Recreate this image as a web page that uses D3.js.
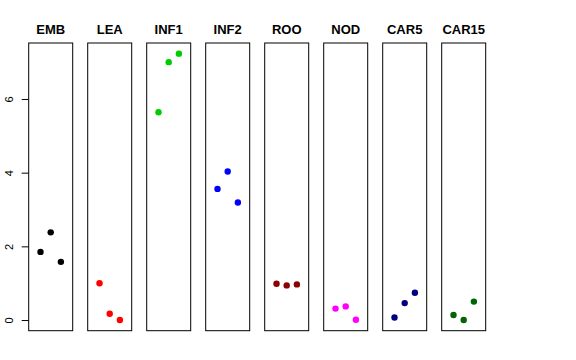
<!DOCTYPE html>
<html><head><meta charset="utf-8">
<script src="https://cdn.jsdelivr.net/npm/d3@7"></script>
<style>body{margin:0;background:#fff}svg{display:block}</style>
</head><body>
<script>
const categories = ["EMB","LEA","INF1","INF2","ROO","NOD","CAR5","CAR15"];
const colors = ["#000000","#ff0000","#00cd00","#0000ff","#8b0000","#ff00ff","#000080","#006400"];
const values = [
  [1.85, 2.38, 1.58],
  [1.00, 0.17, 0.00],
  [5.64, 7.00, 7.23],
  [3.56, 4.03, 3.19],
  [0.985, 0.94, 0.968],
  [0.31, 0.37, 0.01],
  [0.07, 0.46, 0.74],
  [0.135, 0.00, 0.50]
];
const yTicks = [0, 2, 4, 6];

const W = 576, H = 360;
const svg = d3.select("body").append("svg").attr("width", W).attr("height", H);

const allVals = values.flat();
const ymin = d3.min(allVals), ymax = d3.max(allVals);
const pad = (ymax - ymin) * 0.04;
const y = d3.scaleLinear().domain([ymin - pad, ymax + pad]).range([330.7, 43]);

const panel = d3.scaleBand().domain(categories).range([28.7, 28.7 + 59 * 8 - 15]).paddingInner(15/59).paddingOuter(0);
const x = d3.scaleLinear().domain([-0.16, 4.16]);

categories.forEach((c, i) => {
  const x0 = panel(c), bw = panel.bandwidth();
  const g = svg.append("g");
  x.range([x0, x0 + bw]);
  g.append("rect").attr("x", x0).attr("y", y.range()[1])
    .attr("width", bw).attr("height", y.range()[0] - y.range()[1])
    .attr("fill", "none").attr("stroke", "#000").attr("stroke-width", 1);
  g.append("text").attr("x", x0 + bw / 2).attr("y", 34)
    .attr("text-anchor", "middle").attr("font-family", "Liberation Sans, Arial, sans-serif")
    .attr("font-weight", "bold").attr("font-size", 13).text(c);
  g.selectAll("circle").data(values[i]).join("circle")
    .attr("cx", (d, j) => x(j + 1)).attr("cy", d => y(d))
    .attr("r", 3.2).attr("fill", colors[i]);
});

const axis = d3.axisLeft(y).tickValues(yTicks).tickSize(7).tickFormat(d3.format("d"));
const ag = svg.append("g").attr("transform", `translate(${panel(categories[0])},0)`).call(axis);
ag.select(".domain").remove();
ag.selectAll(".tick line").attr("stroke", "#000");
ag.selectAll(".tick text").attr("font-family", "Liberation Sans, Arial, sans-serif")
  .attr("font-size", 11).attr("fill", "#000")
  .attr("x", null).attr("dy", null)
  .attr("text-anchor", "middle")
  .attr("transform", "translate(-16,0) rotate(-90)");
</script>
</body></html>
